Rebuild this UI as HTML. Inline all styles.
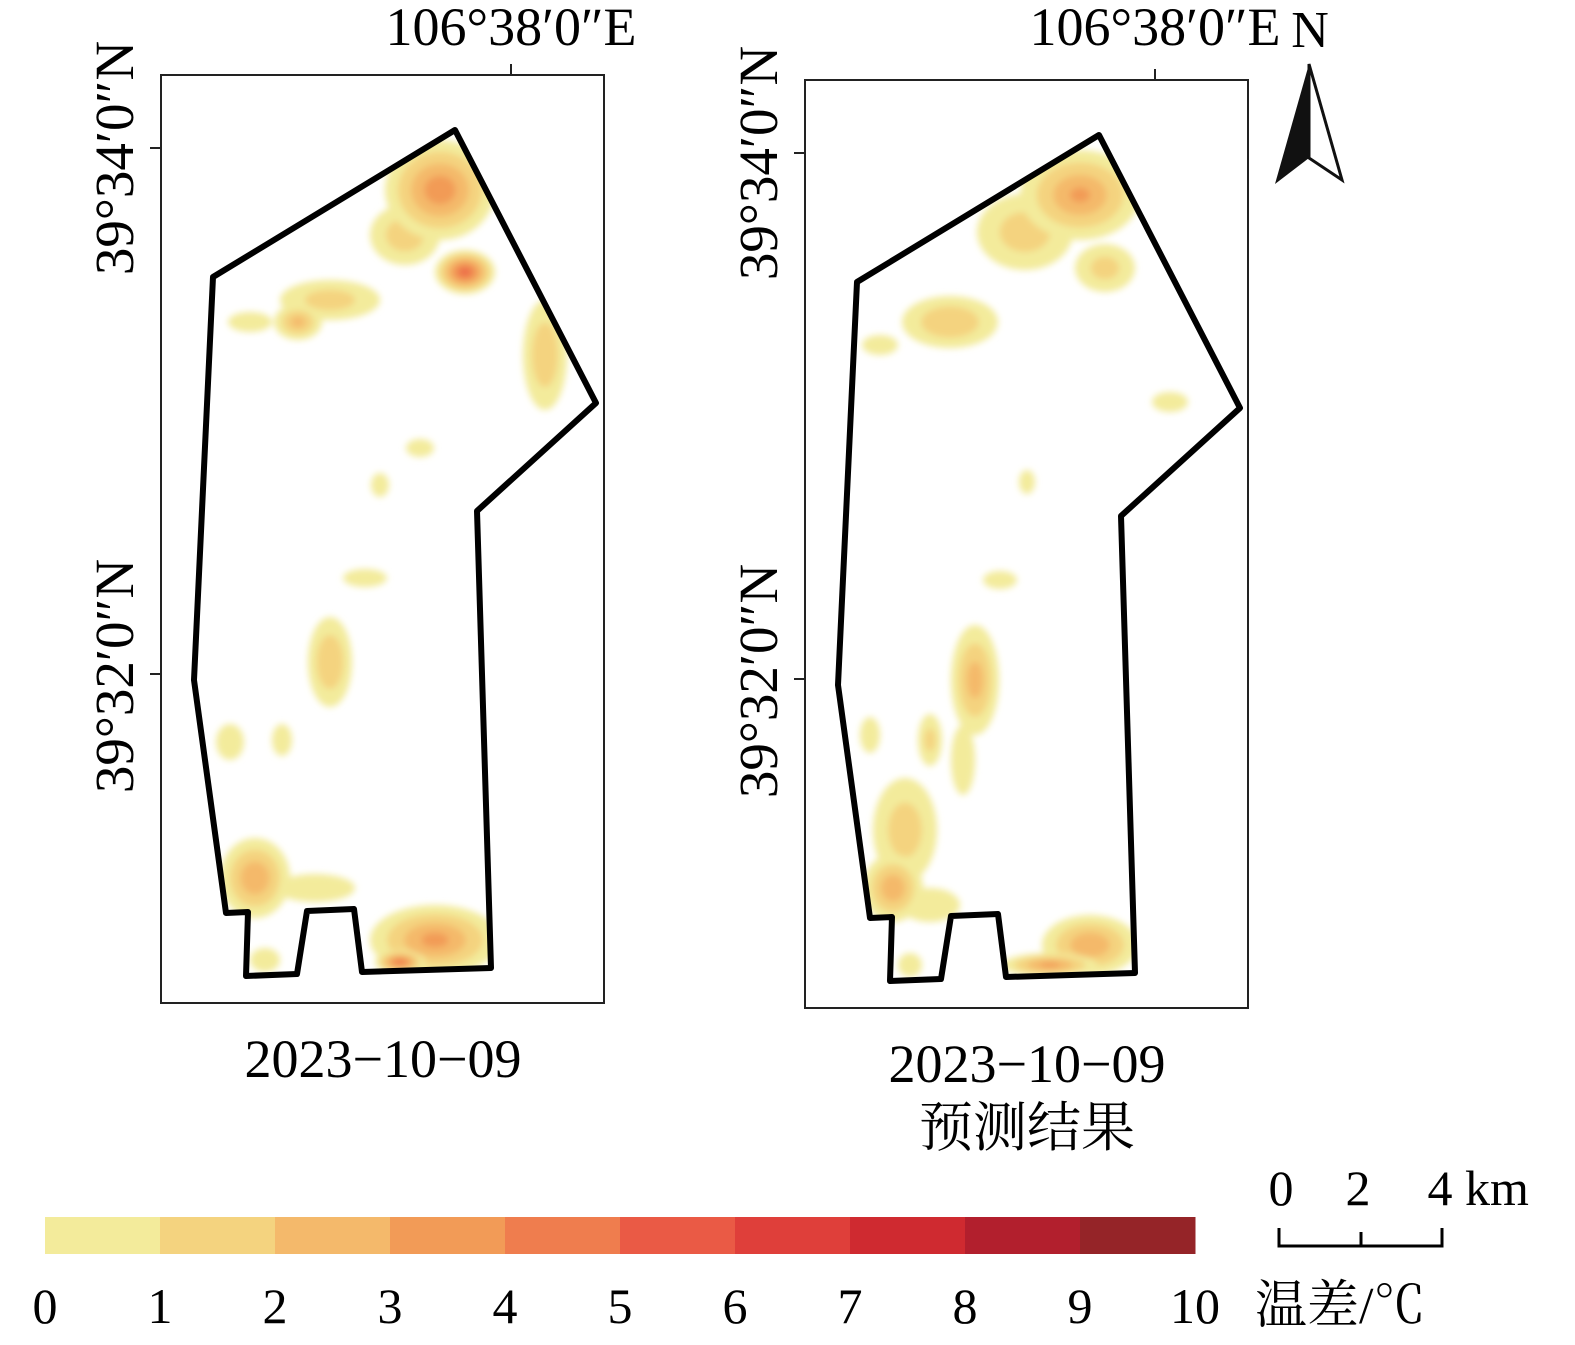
<!DOCTYPE html>
<html><head><meta charset="utf-8"><style>
html,body{margin:0;padding:0;background:#fff;}
svg{display:block;font-family:"Liberation Serif","Noto Serif CJK SC",serif;}
</style></head><body>
<svg id="s" width="1575" height="1345" viewBox="0 0 1575 1345">
<defs>
<filter id="bl" x="-50%" y="-50%" width="200%" height="200%"><feGaussianBlur stdDeviation="3.5"/></filter>
<clipPath id="c1"><polygon points="213,277 455,130 596,403 477,511 491,968 362,972 354,909 307,911 297,974 246,976 248,912 226,913 194,680"/></clipPath>
<clipPath id="c2"><polygon points="857,282 1098,134 1240,408 1121,515 1136,971 1005,975 998,912 951,913 940,979 891,980 893,917 870,916 838,684"/></clipPath>
</defs>
<g id="maps"></g>
<g id="legend"></g>
<g font-size="50">
<text x="1281" y="1205" text-anchor="middle">0</text>
<text x="1358" y="1205" text-anchor="middle">2</text>
<text x="1440" y="1205" text-anchor="middle">4</text>
<text x="1465" y="1205">km</text>
<path d="M1279,1228V1246H1442V1228M1361,1246V1232" fill="none" stroke="#000" stroke-width="3"/>
</g>
<g>
<text x="1310" y="47" font-size="52" text-anchor="middle">N</text>
<polygon points="1309,64 1275,184 1309,158" fill="#111"/>
<polygon points="1309,64 1342,180 1309,158" fill="#fff" stroke="#111" stroke-width="3"/>
</g>
</svg>
<script>
const legendTicks=["0","1","2","3","4","5","6","7","8","9","10"];
const legendColors=["#f3eb9b","#f4d37f","#f4b96b","#f29b57","#ef7d4e","#ea5a45","#df3f3a","#cf2a30","#b21f2d","#952428"];
// blobs: [cx, cy, rx, ry, level(°C)]
const blobsObserved=[[440,190,55,50,3.6],[405,235,35,30,1.6],[465,272,30,22,5],[330,300,50,20,1.4],[298,322,24,18,2.2],[250,322,22,10,0.7],[545,355,22,55,1.8],[420,448,14,9,0.6],[380,485,9,12,0.6],[365,578,22,9,0.6],[330,662,22,45,1.9],[230,742,14,18,0.6],[282,740,10,16,0.6],[255,878,35,40,2.8],[315,888,40,14,0.9],[435,940,65,35,3.2],[400,962,25,12,4.6],[265,960,15,12,0.7]];
const blobsPredicted=[[1080,195,60,45,3],[1025,232,48,38,1.5],[1105,268,30,24,1.3],[950,322,48,26,1.9],[880,345,18,10,0.6],[1170,402,18,10,0.6],[1027,482,8,12,0.6],[1000,580,17,9,0.6],[975,680,24,55,2.4],[963,760,12,35,0.9],[930,740,12,26,1.2],[870,735,10,18,0.6],[905,830,32,52,1.5],[893,888,30,34,2.7],[930,905,30,17,0.8],[1090,945,48,30,2.8],[1050,965,48,12,3.2],[910,965,12,12,0.6]];
const NS="http://www.w3.org/2000/svg";
function el(t,a,p){const e=document.createElementNS(NS,t);for(const k in a)e.setAttribute(k,a[k]);if(p)p.appendChild(e);return e;}
function colorOf(v){return legendColors[Math.max(0,Math.min(9,Math.floor(v)))];}
const maps=document.getElementById('maps');
const panels=[
 {dx:0,dy:0,clip:'c1',blobs:blobsObserved,title:["2023−10−09"],name:'observed'},
 {dx:644,dy:5,clip:'c2',blobs:blobsPredicted,title:["2023−10−09","预测结果"],name:'predicted'}];
const poly=[[213,277],[455,130],[596,403],[477,511],[491,968],[362,972],[354,909],[307,911],[297,974],[246,976],[248,912],[226,913],[194,680]];
panels.forEach(p=>{
 const g=el('g',{},maps);
 
 
 const fr=el('rect',{x:161+p.dx,y:75+p.dy,width:443,height:928,fill:'#fff',stroke:'#222','stroke-width':2},g);
 
 
 const hg=el('g',{'clip-path':'url(#'+p.clip+')'},g);
 
 
 const inner=el('g',{filter:'url(#bl)'},hg);
 p.blobs.slice().sort((a,b)=>a[4]-b[4]).forEach(b=>{
  for(let lv=0;lv<=Math.floor(b[4]);lv++){
   const f=1-lv/(b[4]+0.6);
   const e=el('ellipse',{cx:b[0],cy:b[1],rx:b[2]*f,ry:b[3]*f,fill:colorOf(lv)},inner);
   
   
  }
 });
 const bd=el('polygon',{points:poly.map(q=>(q[0]+p.dx)+','+(q[1]+p.dy)).join(' '),fill:'none',stroke:'#000','stroke-width':6,'stroke-linejoin':'round'},g);
 
 
 el('line',{x1:511+p.dx,y1:64+p.dy,x2:511+p.dx,y2:75+p.dy,stroke:'#222','stroke-width':2},g);
 el('line',{x1:150+p.dx,y1:148+p.dy,x2:161+p.dx,y2:148+p.dy,stroke:'#222','stroke-width':2},g);
 el('line',{x1:150+p.dx,y1:674+p.dy,x2:161+p.dx,y2:674+p.dy,stroke:'#222','stroke-width':2},g);
 const lon=el('text',{x:511+p.dx,y:45,'font-size':54,'text-anchor':'middle'},g);lon.textContent="106°38′0″E";
 
 
 [[158,"39°34′0″N"],[676,"39°32′0″N"]].forEach(l=>{
  const t=el('text',{x:0,y:0,'font-size':55,'text-anchor':'middle',transform:`translate(${133+p.dx},${l[0]+p.dy}) rotate(-90)`},g);
  t.textContent=l[1];
  
  
 });
 p.title.forEach((s,i)=>{
  const t=el('text',{x:383+p.dx,y:1077+p.dy+i*64,'font-size':54,'text-anchor':'middle'},g);t.textContent=s;
  
  
 });
});
const lg=document.getElementById('legend');


const x0=45,w=115;
legendColors.forEach((c,i)=>{
 const r=el('rect',{x:x0+i*w,y:1217,width:w+0.5,height:37,fill:c},lg);
 
 
});
legendTicks.forEach((t,i)=>{
 const e=el('text',{x:x0+i*w,y:1323,'font-size':50,'text-anchor':'middle'},lg);e.textContent=t;
 
 
});
const u=el('text',{x:1255,y:1323,'font-size':52},lg);u.textContent="温差/℃";


</script>
</body></html>
